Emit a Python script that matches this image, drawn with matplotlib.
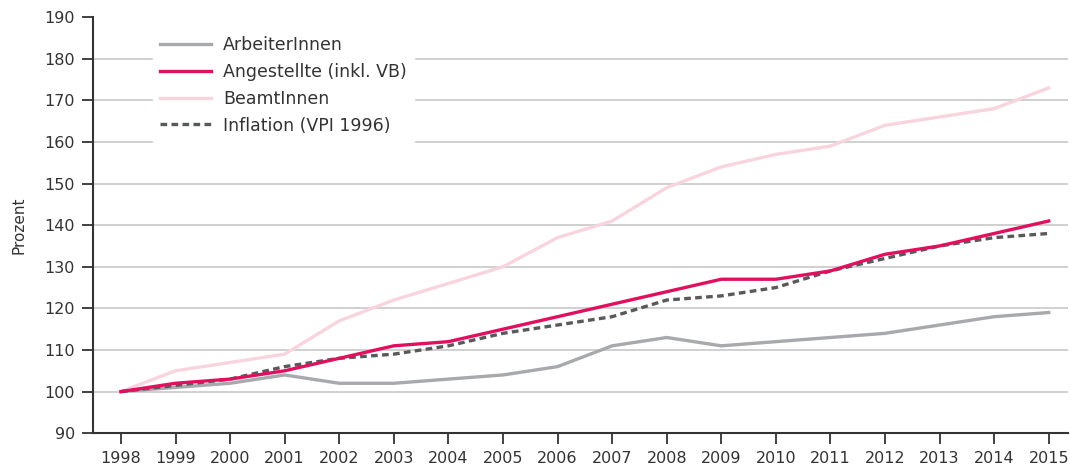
import matplotlib
matplotlib.use('Agg')
import matplotlib.pyplot as plt

plt.rcParams['font.family'] = ['DejaVu Sans']

years = list(range(1998, 2016))
arbeiter = [100, 101, 102, 104, 102, 102, 103, 104, 106, 111, 113, 111, 112, 113, 114, 116, 118, 119]
angestellte = [100, 102, 103, 105, 108, 111, 112, 115, 118, 121, 124, 127, 127, 129, 133, 135, 138, 141]
beamte = [100, 105, 107, 109, 117, 122, 126, 130, 137, 141, 149, 154, 157, 159, 164, 166, 168, 173]
inflation = [100, 101.5, 103, 106, 108, 109, 111, 114, 116, 118, 122, 123, 125, 129, 132, 135, 137, 138]

txt = '#333333'

fig = plt.figure(figsize=(10.7, 4.75), dpi=100)
ax = fig.add_axes([0.087, 0.088, 0.911, 0.876])

ax.plot(years, beamte, color='#f8d5de', lw=2.4, label='BeamtInnen', zorder=3)
ax.plot(years, arbeiter, color='#a8a9ad', lw=2.4, label='ArbeiterInnen', zorder=4)
ax.plot(years, inflation, color='#58595b', lw=2.4, ls=(0, (2.0, 1.3)), label='Inflation (VPI 1996)', zorder=5)
ax.plot(years, angestellte, color='#e0105f', lw=2.4, label='Angestellte (inkl. VB)', zorder=6)

ax.set_xlim(1997.49, 2015.35)
ax.set_ylim(90, 190)
ax.set_yticks(range(90, 191, 10))
ax.set_xticks(years)
ax.grid(axis='y', color='#c8c8c8', lw=1.2, zorder=0)
ax.set_axisbelow(True)
# no gridline at the top (190)
ax.yaxis.get_gridlines()[-1].set_visible(False)

for s in ['top', 'right']:
    ax.spines[s].set_visible(False)
for s in ['left', 'bottom']:
    ax.spines[s].set_color('#333333')
    ax.spines[s].set_linewidth(1.5)
ax.tick_params(axis='both', direction='out', length=8, width=1.3, color='#333333',
               labelsize=11.5, labelcolor=txt)
ax.tick_params(axis='x', pad=5)
ax.tick_params(axis='y', pad=5)
ax.set_ylabel('Prozent', fontsize=11, color=txt, labelpad=13)

handles, labels = ax.get_legend_handles_labels()
order = [labels.index(l) for l in ['ArbeiterInnen', 'Angestellte (inkl. VB)', 'BeamtInnen', 'Inflation (VPI 1996)']]
leg = ax.legend([handles[i] for i in order], [labels[i] for i in order],
                loc='upper left', bbox_to_anchor=(0.0612, 0.971), borderaxespad=0,
                frameon=True, fontsize=12.5, handlelength=2.93, handletextpad=0.69,
                labelspacing=0.5, borderpad=0.42, fancybox=False)
leg.get_frame().set_facecolor('white')
leg.get_frame().set_edgecolor('white')
leg.get_frame().set_alpha(1)
for t in leg.get_texts():
    t.set_color(txt)

fig.savefig('out.png', dpi=100)
